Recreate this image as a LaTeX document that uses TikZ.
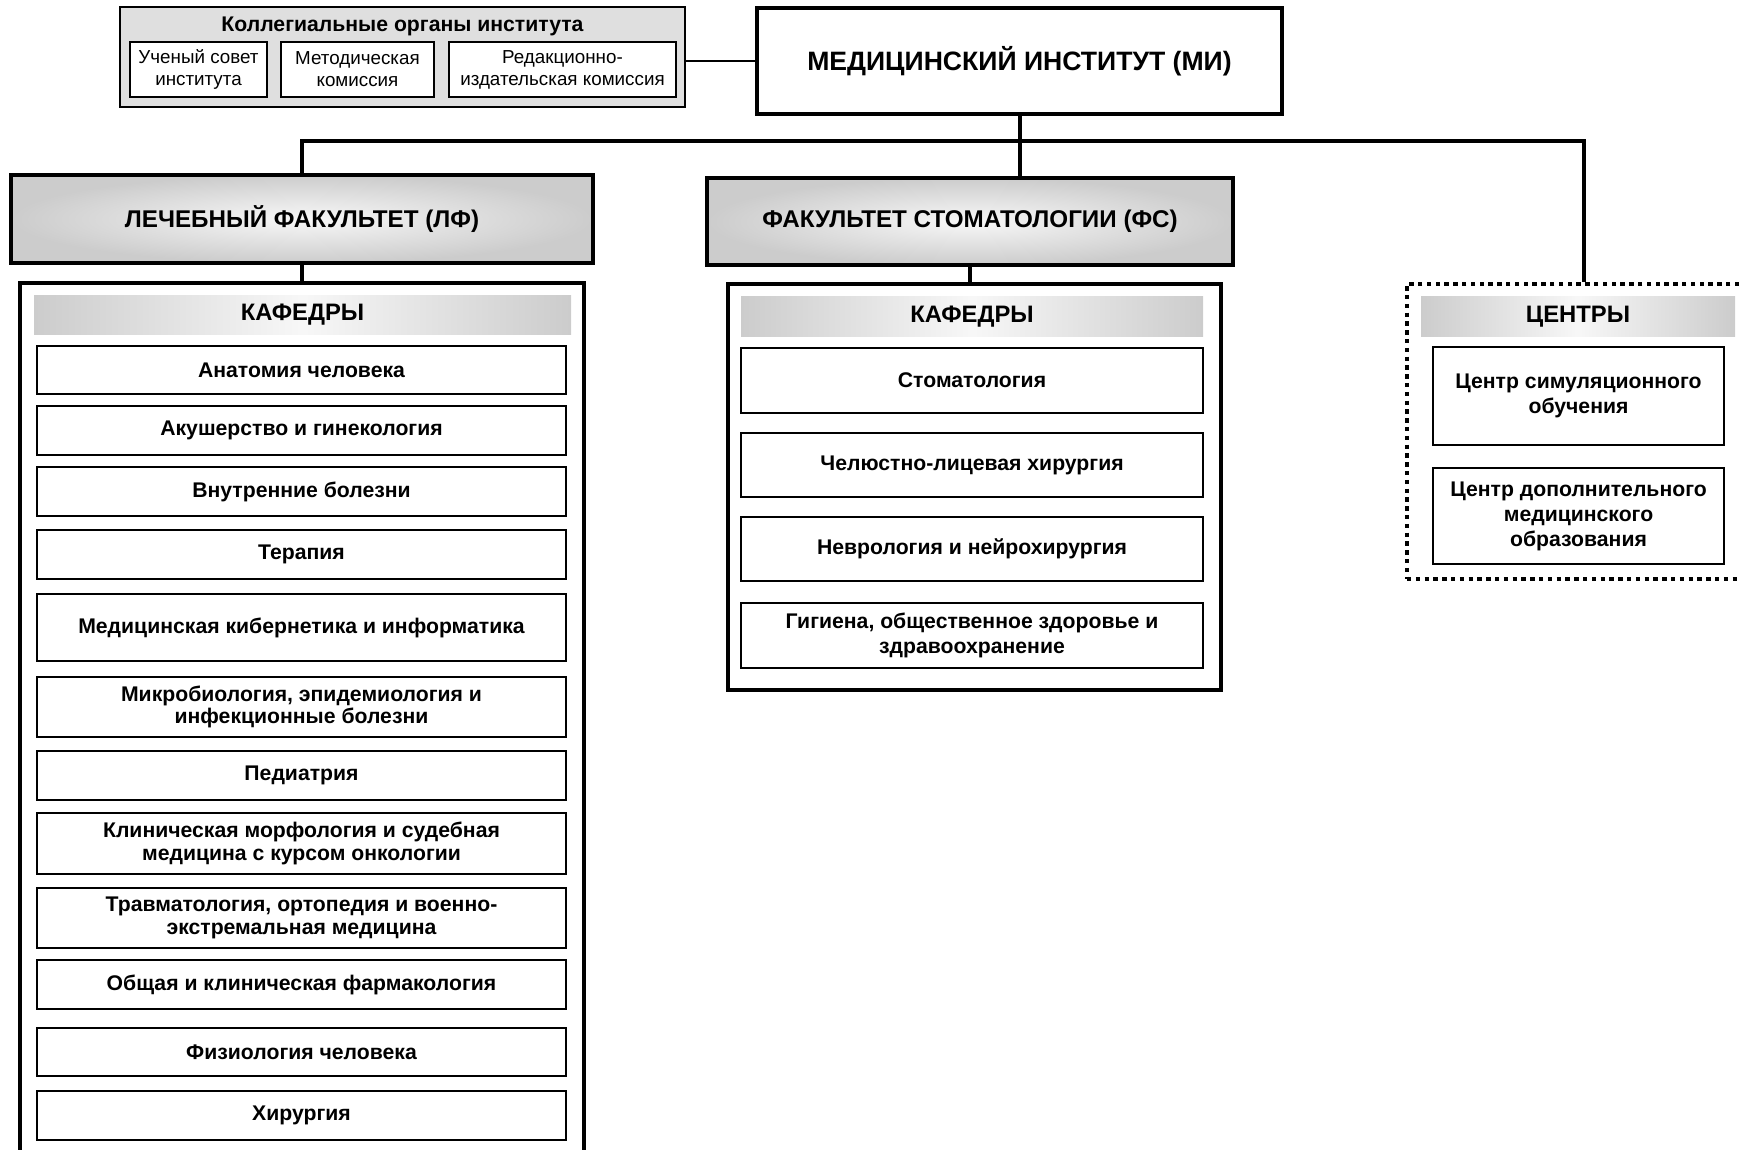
\documentclass[tikz,border=0pt]{standalone}
\usepackage{fontspec}
\setmainfont{Liberation Sans}
\definecolor{shadeout}{gray}{0.80}
\definecolor{shadein}{gray}{0.97}
\tikzset{unit/.style={draw,line width=1pt,fill=white,align=center,inner sep=0pt,font=\bfseries\fontsize{10.6}{11.1}\selectfont}}
\tikzset{council/.style={draw,line width=1pt,fill=white,align=center,inner sep=0pt,font=\fontsize{9.4}{11}\selectfont}}
\tikzset{faculty/.style={draw,line width=2pt,inner color=shadein,outer color=shadeout,font=\bfseries\fontsize{12.1}{14}\selectfont}}
\tikzset{header/.style={inner sep=0pt,left color=shadeout,right color=shadeout,middle color=shadein,font=\bfseries\fontsize{11.9}{13}\selectfont}}
\tikzset{frame/.style={draw,line width=2pt,inner sep=0pt}}
\tikzset{link/.style={line width=2pt}}

\begin{document}
\begin{tikzpicture}[x=0.5pt,y=-0.5pt]
            \useasboundingbox (0,0) rectangle (1740,1150);
            % collegial bodies
            \node[draw,line width=1.2pt,fill=gray!25,minimum width=282.5pt,minimum height=50pt] (coll) at (402.5,57) {};
            \node[font=\bfseries\fontsize{10.6}{12}\selectfont] (colltitle) at (402.5,26) {Коллегиальные органы института};
            \node[council,minimum width=68.5pt,minimum height=27.5pt] (sovet) at (198.5,69.5) {Ученый совет\\института};
            \node[council,minimum width=76.5pt,minimum height=27.5pt] (metod) at (357.5,69.5) {Методическая\\комиссия};
            \node[council,minimum width=113.5pt,minimum height=27.5pt] (redak) at (562.5,69.5) {Редакционно-\\издательская комиссия};

            % the institute
            \node[draw,line width=2pt,fill=white,minimum width=262.5pt,minimum height=53pt,font=\bfseries\fontsize{13.3}{15}\selectfont] (mi) at (1019.5,61) {МЕДИЦИНСКИЙ ИНСТИТУТ (МИ)};
            \draw[line width=0.6pt] (mi.west) -- (mi.west -| coll.east);

            % faculties
            \node[faculty,minimum width=291pt,minimum height=44pt] (lf) at (302,219) {ЛЕЧЕБНЫЙ ФАКУЛЬТЕТ (ЛФ)};
            \node[faculty,minimum width=263pt,minimum height=43.5pt] (fs) at (970,221.5) {ФАКУЛЬТЕТ СТОМАТОЛОГИИ (ФС)};

            % frames of the departments and centres
            \node[frame,minimum width=282pt,minimum height=443.5pt] (lfbox) at (302,726.5) {};
            \node[frame,minimum width=246.5pt,minimum height=203pt] (fsbox) at (974.5,487) {};
            \node[frame,dash pattern=on 2.2pt off 2.2pt,line width=2.2pt,minimum width=176.5pt,minimum height=147.5pt] (ctbox) at (1583.5,431.5) {};

            % the lines
            \coordinate (bus) at (1020,141);
            \draw[link] (mi.south) -- (mi.south |- fs.north);
            \draw[link] (lf.north) |- (bus) -| (ctbox.north);
            \draw[link] (lf.south) -- (lf.south |- lfbox.north);
            \draw[link] (fs.south) -- (fs.south |- fsbox.north);

            % departments of the medical faculty
            \node[header,minimum width=268.5pt,minimum height=19pt] (lfhead) at (302.5,315) {КАФЕДРЫ};
            \node[unit,minimum width=264.5pt,minimum height=24pt] (lf1) at (301.5,370) {Анатомия человека};
            \node[unit,minimum width=264.5pt,minimum height=24.5pt] (lf2) at (301.5,430.5) {Акушерство и гинекология};
            \node[unit,minimum width=264.5pt,minimum height=24.5pt] (lf3) at (301.5,491.5) {Внутренние болезни};
            \node[unit,minimum width=264.5pt,minimum height=24.5pt] (lf4) at (301.5,554.5) {Терапия};
            \node[unit,minimum width=264.5pt,minimum height=33.5pt] (lf5) at (301.5,627.5) {Медицинская кибернетика и информатика};
            \node[unit,minimum width=264.5pt,minimum height=30pt] (lf6) at (301.5,707) {Микробиология, эпидемиология и\\инфекционные болезни};
            \node[unit,minimum width=264.5pt,minimum height=24.5pt] (lf7) at (301.5,775.5) {Педиатрия};
            \node[unit,minimum width=264.5pt,minimum height=30.5pt] (lf8) at (301.5,843.5) {Клиническая морфология и судебная\\медицина с курсом онкологии};
            \node[unit,minimum width=264.5pt,minimum height=30pt] (lf9) at (301.5,918) {Травматология, ортопедия и военно-\\экстремальная медицина};
            \node[unit,minimum width=264.5pt,minimum height=24.5pt] (lf10) at (301.5,984.5) {Общая и клиническая фармакология};
            \node[unit,minimum width=264.5pt,minimum height=24pt] (lf11) at (301.5,1052) {Физиология человека};
            \node[unit,minimum width=264.5pt,minimum height=24.5pt] (lf12) at (301.5,1115.5) {Хирургия};

            % departments of the dental faculty
            \node[header,minimum width=231pt,minimum height=19.5pt] (fshead) at (972,316.5) {КАФЕДРЫ};
            \node[unit,minimum width=231pt,minimum height=32.5pt] (fs1) at (972,380.5) {Стоматология};
            \node[unit,minimum width=231pt,minimum height=32pt] (fs2) at (972,465) {Челюстно-лицевая хирургия};
            \node[unit,minimum width=231pt,minimum height=32pt] (fs3) at (972,549) {Неврология и нейрохирургия};
            \node[unit,minimum width=231pt,minimum height=32.5pt,font=\bfseries\fontsize{10.6}{12.2}\selectfont] (fs4) at (972,635.5) {Гигиена, общественное здоровье и\\здравоохранение};

            % centres
            \node[header,minimum width=157pt,minimum height=19.5pt] (cthead) at (1578,316.5) {ЦЕНТРЫ};
            \node[unit,minimum width=145.5pt,minimum height=49pt,font=\bfseries\fontsize{10.6}{12.5}\selectfont] (ct1) at (1578.5,396) {Центр симуляционного\\обучения};
            \node[unit,minimum width=145.5pt,minimum height=48pt,font=\bfseries\fontsize{10.6}{12.5}\selectfont] (ct2) at (1578.5,516) {Центр дополнительного\\медицинского\\образования};
        \end{tikzpicture}
\end{document}
